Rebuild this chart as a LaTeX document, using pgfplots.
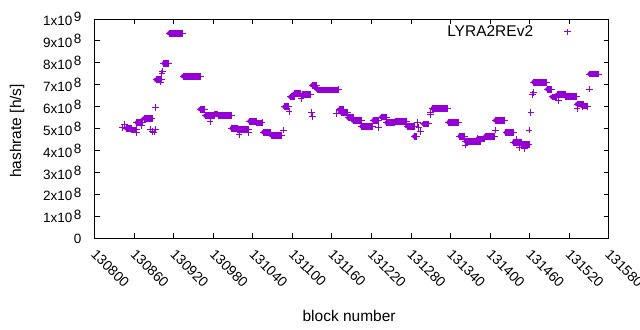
\documentclass[border=0pt]{standalone}
\usepackage{pgfplots}
\pgfplotsset{compat=1.18}
\usepackage{pgfplotstable}
\usepackage{fontspec}
\setmainfont{Liberation Sans}
\definecolor{dviolet}{RGB}{148,0,211}
\newcommand{\sci}[2]{#1x10\hspace{1.5bp}\raisebox{3.5bp}{#2}\hspace{9bp}}

\pgfplotstableread{
x1 x2 y
130848 130856 5.02
130856 130863 4.95
130864 130872 5.28
130875 130887 5.47
130893 130901 7.23
130905 130912 7.98
130913 130933 9.35
130934 130961 7.39
130960 130967 5.89
130968 130982 5.60
130982 130987 5.67
130988 131007 5.61
131008 131017 5.02
131016 131033 4.97
131035 131045 5.34
131046 131054 5.27
131056 131066 4.84
131068 131084 4.70
131088 131094 6.00
131097 131103 6.45
131103 131112 6.60
131116 131127 6.57
131130 131136 6.98
131138 131170 6.77
131171 131177 5.87
131175 131184 5.73
131185 131192 5.50
131192 131205 5.37
131205 131222 5.11
131223 131230 5.38
131235 131243 5.53
131243 131255 5.28
131256 131273 5.32
131274 131285 5.11
131285 131288 4.65
131299 131307 5.22
131313 131335 5.93
131337 131352 5.29
131354 131361 4.66
131363 131385 4.43
131381 131392 4.54
131393 131407 4.66
131408 131422 5.38
131424 131436 4.83
131436 131448 4.38
131448 131459 4.28
131466 131486 7.12
131487 131493 6.80
131494 131501 6.45
131502 131508 6.55
131509 131515 6.57
131514 131531 6.48
131532 131541 6.12
131540 131548 6.03
131551 131565 7.49
}\segs

\pgfplotstableread{
x y
130842 5.07
130845 5.18
130863 4.82
130871 5.13
130885 4.98
130888 4.88
130890 4.85
130892 4.95
130892 5.98
130900 7.13
130902 7.52
130903 7.63
130975 5.32
131019 4.75
131033 4.82
131086 4.94
131095 5.78
131113 6.36
131129 5.75
131130 5.55
131167 5.70
131231 5.05
131290 5.28
131292 5.05
131295 4.87
131309 5.75
131310 5.66
131362 4.26
131408 4.94
131440 4.50
131445 4.15
131452 4.10
131459 4.94
131462 5.75
131464 6.57
131466 6.64
131504 6.30
131532 5.93
131551 6.81
}\isos

\begin{document}
\begin{tikzpicture}
\path[use as bounding box] (0,0) rectangle (640bp,330bp);
\begin{axis}[
  at={(94.7bp,91.5bp)}, anchor=south west,
  scale only axis, width=514bp, height=219.5bp,
  xmin=130800, xmax=131580, ymin=0, ymax=10,
  scaled x ticks=false, scaled y ticks=false,
  axis line style={line width=0.9bp},
  tick style={black, line width=0.9bp},
  tick align=inside, major tick length=5bp,
  xtick pos=both, ytick pos=both,
  xtick={130800,130860,130920,130980,131040,131100,131160,131220,131280,131340,131400,131460,131520,131580},
  xticklabels={130800,130860,130920,130980,131040,131100,131160,131220,131280,131340,131400,131460,131520,131580},
  ytick={0,1,2,3,4,5,6,7,8,9,10},
  yticklabels={0,\sci{1}{8},\sci{2}{8},\sci{3}{8},\sci{4}{8},\sci{5}{8},\sci{6}{8},\sci{7}{8},\sci{8}{8},\sci{9}{8},\sci{1}{9}},
  yticklabel style={font=\fontsize{13.5bp}{16bp}\selectfont, anchor=east, inner sep=0pt, xshift=-13bp},
  xticklabel style={font=\fontsize{14bp}{16bp}\selectfont, yshift=-13bp, xshift=-1bp, rotate=-45, anchor=west, inner sep=0pt},
  label style={font=\fontsize{15.5bp}{18bp}\selectfont},
  xlabel={block number},
  xlabel style={at={(axis description cs:0.495,-0.355)}, anchor=center},
  ylabel={hashrate [h/s]},
  ylabel style={at={(axis description cs:-0.151,0.49)}, anchor=center},
  legend plot pos=right,
  legend style={draw=none, fill=none, at={(axis description cs:0.966,0.941)}, anchor=east,
    font=\fontsize{15.5bp}{18bp}\selectfont, nodes={inner sep=0pt}, column sep=14bp},
  legend image code/.code={\path (-20bp,0bp) (20bp,0bp); \draw[#1] plot coordinates {(0bp,0bp)};},
]
\addplot[dviolet, only marks, mark=+, mark size=3.4bp, line width=0.9bp] table[x=x, y=y] {\isos};
\addlegendentry{LYRA2REv2}
\addplot[dviolet, only marks, mark=+, mark size=3.4bp, line width=0.9bp, forget plot] table[x=x1, y=y] {\segs};
\addplot[dviolet, only marks, mark=+, mark size=3.4bp, line width=0.9bp, forget plot] table[x=x2, y=y] {\segs};
\addplot[dviolet, only marks, mark=none, forget plot,
  error bars/.cd, x dir=plus, x explicit, error mark=none,
  error bar style={dviolet, line width=6.6bp, line cap=butt}]
  table[x=x1, y=y, x error expr=\thisrow{x2}-\thisrow{x1}] {\segs};
\end{axis}
\end{tikzpicture}
\end{document}
